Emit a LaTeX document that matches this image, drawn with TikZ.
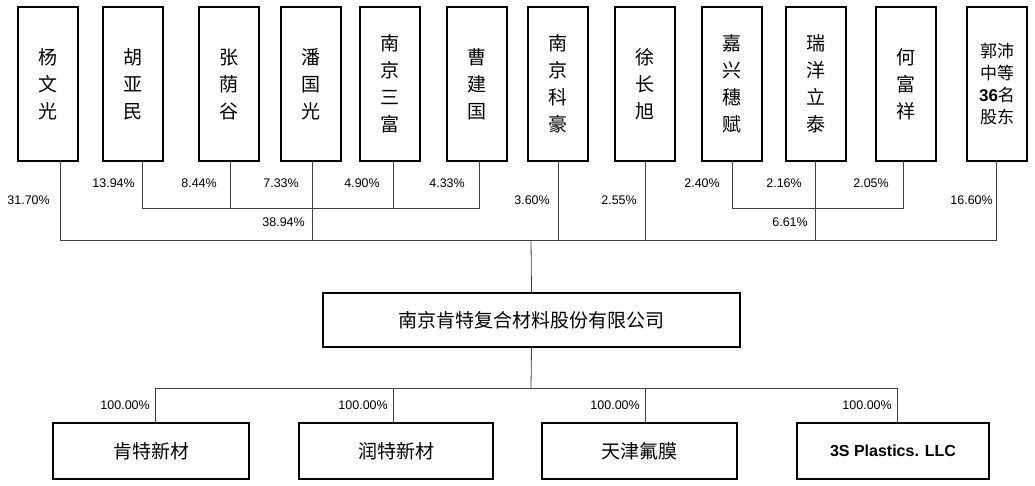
\documentclass[tikz,border=0pt]{standalone}
\usepackage{fontspec}
\setmainfont{Liberation Sans}
\newfontfamily\cjk{Noto Sans CJK SC}
\begin{document}
\begin{tikzpicture}[x=1pt,y=-1pt,
  sh/.style={draw,line width=1.3pt,minimum width=60pt,minimum height=154pt,inner sep=0pt,font=\cjk\fontsize{19}{27}\selectfont,align=center},
  co/.style={draw,line width=1.3pt,inner sep=0pt,font=\cjk\fontsize{19}{22}\selectfont},
  ln/.style={draw=black!75,line width=0.8pt},
  pc/.style={font=\fontsize{12.5}{14}\selectfont,anchor=east,inner sep=0pt}]
\useasboundingbox (0,0) rectangle (1035,485);
\foreach \n/\x/\t in {a/48/杨\\文\\光,b/133/胡\\亚\\民,c/229/张\\荫\\谷,d/311/潘\\国\\光,e/390/南\\京\\三\\富,f/477/曹\\建\\国,g/558/南\\京\\科\\豪,h/645/徐\\长\\旭,i/732/嘉\\兴\\穗\\赋,j/816/瑞\\洋\\立\\泰,k/906/何\\富\\祥}
  \node[sh] (\n) at (\x,84) {\t};
\node[sh,font=\cjk\fontsize{17}{22}\selectfont] (l) at (997,84) {郭沛\\中等\\{\fontspec{Liberation Sans}\bfseries 36}名\\股东};
\node[co,minimum width=417pt,minimum height=54pt] (m) at (531.5,320) {南京肯特复合材料股份有限公司};
\node[co,minimum width=196pt,minimum height=56pt] (s1) at (151,451) {肯特新材};
\node[co,minimum width=194pt,minimum height=56pt] (s2) at (396,451) {润特新材};
\node[co,minimum width=195pt,minimum height=56pt] (s3) at (639.5,451) {天津氟膜};
\node[co,minimum width=192pt,minimum height=56pt,font=\fontsize{16}{18}\selectfont\bfseries] (s4) at (893,451) {3S Plastics. LLC};
% sub groups
\coordinate (g1) at (142,208); \coordinate (g2) at (479,208);
\coordinate (h1) at (732,208); \coordinate (h2) at (903,208);
\draw[ln] (142,161) -- (g1) -- (g2) -- (479,161);
\foreach \x in {230,312,393} \draw[ln] (\x,161) -- (\x,208);
\draw[ln] (732,161) -- (h1) -- (h2) -- (903,161);
\draw[ln] (815,161) -- (815,240);
\draw[ln] (312,208) -- (312,240);
\draw[ln] (60,161) -- (60,240) -- (996,240) -- (996,161);
\foreach \x in {558,645} \draw[ln] (\x,161) -- (\x,240);
\draw[ln] (531,240) -- (m.north);
\draw[ln] (m.south) -- (531,388);
\draw[ln] (155,388) -- (897,388);
\foreach \x/\s in {155/s1,393/s2,645/s3,897/s4} \draw[ln] (\x,388) -- (\x,423);
% labels
\foreach \x/\y/\t in {50/200/31.70\%,135/183/13.94\%,217/183/8.44\%,299/183/7.33\%,380/183/4.90\%,465/183/4.33\%,550/200/3.60\%,637/200/2.55\%,720/183/2.40\%,802/183/2.16\%,889/183/2.05\%,993/200/16.60\%,305/222/38.94\%,808/222/6.61\%,150/405/100.00\%,388/405/100.00\%,640/405/100.00\%,892/405/100.00\%}
  \node[pc] at (\x,\y) {\t};
\end{tikzpicture}
\end{document}
